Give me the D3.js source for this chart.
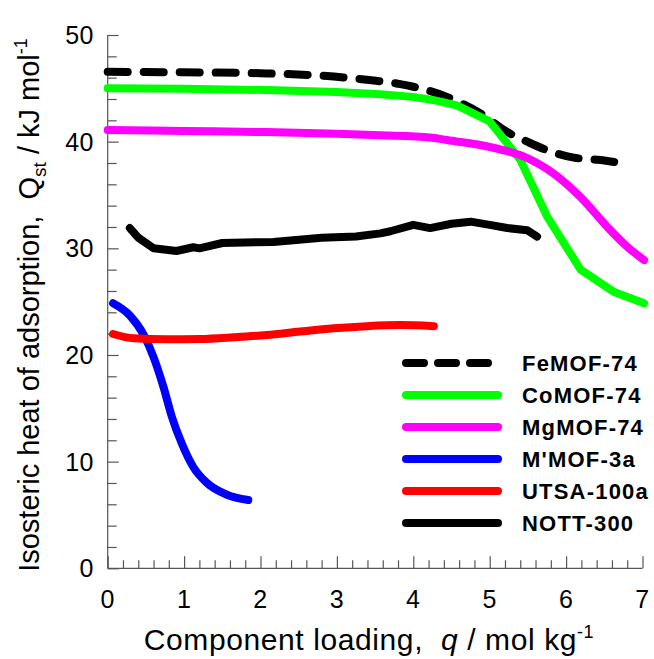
<!DOCTYPE html>
<html>
<head>
<meta charset="utf-8">
<script src="https://cdn.jsdelivr.net/npm/d3@7"></script>
<style>
  body { margin: 0; background: #fff; }
  svg { display: block; font-family: "Liberation Sans", Arial, sans-serif; }
</style>
</head>
<body>
<div id="chart"></div>
<script>
// valores: [q (mol/kg), Qst (kJ/mol)]
const feMOF74 = [[0, 46.55], [1, 46.5], [2.08, 46.4], [2.96, 46.1], [3.39, 45.8], [3.83, 45.4], [4.0, 45.15], [4.44, 44.2], [4.88, 42.65], [5.23, 40.9], [5.49, 40.0], [5.75, 39.2], [6.1, 38.5], [6.41, 38.3], [6.63, 38.1]];
const coMOF74 = [[0, 45.0], [1, 44.95], [2.08, 44.84], [3.0, 44.65], [3.57, 44.45], [4.0, 44.2], [4.3, 43.85], [4.57, 43.4], [5.0, 41.9], [5.4, 38.3], [5.75, 33.0], [6.19, 28.0], [6.63, 25.9], [7.02, 24.85]];
const mgMOF74 = [[0, 41.1], [1, 41.0], [2.08, 40.9], [3.0, 40.75], [3.57, 40.6], [4.22, 40.4], [4.44, 40.15], [5.0, 39.5], [5.45, 38.6], [5.84, 37.0], [6.19, 34.8], [6.54, 32.0], [6.8, 30.15], [7.02, 28.9]];
const mMOF3a = [[0.07, 24.85], [0.29, 23.7], [0.47, 21.9], [0.6, 19.8], [0.73, 17.0], [0.84, 14.2], [0.97, 11.7], [1.12, 9.5], [1.3, 8.0], [1.56, 6.9], [1.84, 6.4]];
const utsa100a = [[0.07, 21.97], [0.34, 21.56], [0.77, 21.47], [1.21, 21.5], [1.65, 21.66], [2.08, 21.87], [2.52, 22.2], [2.96, 22.5], [3.39, 22.7], [3.83, 22.8], [4.27, 22.7]];
const nott300 = [[0.29, 31.9], [0.4, 31.0], [0.6, 30.0], [0.9, 29.75], [1.12, 30.1], [1.2, 30.0], [1.5, 30.5], [2.17, 30.6], [2.8, 31.0], [3.25, 31.1], [3.57, 31.4], [3.7, 31.6], [4.0, 32.2], [4.22, 31.9], [4.5, 32.3], [4.75, 32.5], [5.0, 32.2], [5.23, 31.9], [5.49, 31.7], [5.62, 31.1]];

const xTicks = [0, 1, 2, 3, 4, 5, 6, 7];
const yTicks = [0, 10, 20, 30, 40, 50];

const series = [
  { name: "FeMOF-74", values: feMOF74, color: "#000000", dash: "20,16", curve: d3.curveMonotoneX },
  { name: "CoMOF-74", values: coMOF74, color: "#00ff00", dash: null, curve: d3.curveLinear },
  { name: "MgMOF-74", values: mgMOF74, color: "#ff00ff", dash: null, curve: d3.curveMonotoneX },
  { name: "M'MOF-3a", values: mMOF3a, color: "#0000ff", dash: null, curve: d3.curveMonotoneX },
  { name: "UTSA-100a", values: utsa100a, color: "#ff0000", dash: null, curve: d3.curveMonotoneX },
  { name: "NOTT-300", values: nott300, color: "#000000", dash: null, curve: d3.curveLinear }
];

const width = 654, height = 659;
const x = d3.scaleLinear().domain([0, 7]).range([107.7, 642.5]);
const y = d3.scaleLinear().domain([0, 50]).range([568.3, 35]);

const svg = d3.select("#chart").append("svg")
  .attr("width", width)
  .attr("height", height);

const axisColor = "#555";

// --- Ejes (solo izquierda y abajo, ticks hacia dentro) ---
const gx = svg.append("g").attr("transform", `translate(0,${y(0)})`);
gx.call(d3.axisBottom(x).tickValues(d3.range(0, 7.001, 0.2)).tickSize(-8).tickFormat(""));
gx.selectAll(".tick line")
  .attr("y2", d => Math.abs(d - Math.round(d)) < 1e-6 ? -12 : -8);
gx.select(".domain").attr("d", `M${x(0)},0H${x(7)}`);
gx.selectAll("line, path").attr("stroke", axisColor).attr("stroke-width", 1.2);

const gy = svg.append("g").attr("transform", `translate(${x(0)},0)`);
gy.call(d3.axisLeft(y).tickValues(d3.range(0, 50.001, 2)).tickSize(-9).tickFormat(""));
gy.selectAll(".tick line")
  .attr("x2", d => d % 10 === 0 ? 11 : 9);
gy.select(".domain").attr("d", `M0,${y(0)}V${y(50)}`);
gy.selectAll("line, path").attr("stroke", axisColor).attr("stroke-width", 1.2);

// etiquetas de ticks
svg.append("g").selectAll("text")
  .data(xTicks).enter().append("text")
  .attr("x", d => x(d))
  .attr("y", 608)
  .attr("text-anchor", "middle")
  .style("font-size", "25px")
  .style("letter-spacing", "0.5px")
  .text(d => d);

svg.append("g").selectAll("text")
  .data(yTicks).enter().append("text")
  .attr("x", 94)
  .attr("y", d => y(d) + 9)
  .attr("text-anchor", "end")
  .style("font-size", "25px")
  .style("letter-spacing", "0.5px")
  .text(d => d);

// --- Títulos de ejes ---
const xt = svg.append("text")
  .attr("x", 369)
  .attr("y", 650)
  .attr("text-anchor", "middle")
  .style("font-size", "30px")
  .style("letter-spacing", "0.6px");
xt.append("tspan").text("Component loading,\u00a0\u00a0");
xt.append("tspan").style("font-style", "italic").text("q");
xt.append("tspan").text("\u00a0/ mol kg");
xt.append("tspan").attr("dy", -12).style("font-size", "18px").text("-1");

const yt = svg.append("text")
  .attr("transform", "translate(39,305) rotate(-90)")
  .attr("text-anchor", "middle")
  .style("font-size", "29px");
yt.append("tspan").text("Isosteric heat of adsorption,\u00a0\u00a0Q");
yt.append("tspan").attr("dy", 7).style("font-size", "19px").text("st");
yt.append("tspan").attr("dy", -7).text(" / kJ mol");
yt.append("tspan").attr("dy", -12).style("font-size", "18px").text("-1");

// --- Curvas ---
series.forEach(s => {
  const line = d3.line().curve(s.curve).x(d => x(d[0])).y(d => y(d[1]));
  svg.append("path")
    .datum(s.values)
    .attr("d", line)
    .attr("fill", "none")
    .attr("stroke", s.color)
    .attr("stroke-width", 8)
    .attr("stroke-linecap", "round")
    .attr("stroke-linejoin", "round")
    .attr("stroke-dasharray", s.dash);
});

// --- Leyenda ---
const legend = svg.append("g").attr("transform", "translate(406,363)");
const rows = legend.selectAll("g")
  .data(series).enter().append("g")
  .attr("transform", (d, i) => `translate(0,${i * 32})`);

rows.append("line")
  .attr("x1", 0).attr("x2", 92)
  .attr("stroke", d => d.color)
  .attr("stroke-width", 8)
  .attr("stroke-linecap", "round")
  .attr("stroke-dasharray", d => d.dash ? "18,14" : null);

rows.append("text")
  .attr("x", 116)
  .attr("y", 8)
  .style("font-size", "22px")
  .style("font-weight", "bold")
  .style("letter-spacing", "1.2px")
  .text(d => d.name);
</script>
</body>
</html>
